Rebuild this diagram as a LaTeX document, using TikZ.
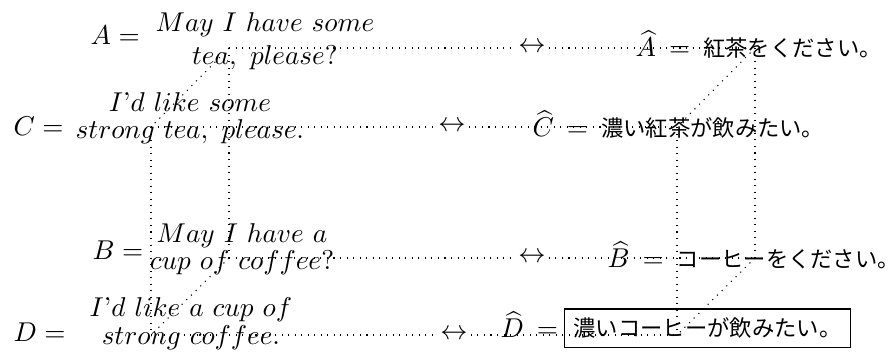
\documentclass[tikz,border=0pt]{standalone}
\usepackage{fontspec}
\newfontfamily\jpfont{Noto Sans CJK JP}
\newcommand\jptext[1]{{\jpfont\fontsize{8.2}{10}\selectfont #1}}
\newcommand\twoline[3]{{\renewcommand\arraystretch{#1}\begin{tabular}[t]{@{}c@{}}#2\\#3\end{tabular}}}
\newcommand\wideeq{\hspace{4.8pt}$=$\hspace{4.8pt}}
\begin{document}
\begin{tikzpicture}[x=0.3676pt,y=-0.3676pt,
  lbl/.style={inner sep=0pt,anchor=base west},
  sent/.style={inner sep=0pt,anchor=base},
  arr/.style={inner sep=1pt},
  edge/.style={dotted},
  answer/.style={draw,line width=0.5pt,inner sep=3.3pt,anchor=base west}]
\useasboundingbox (0,0) rectangle (888,362);
% left: sentences
\node[lbl] (aeq) at (90,45) {$A =$};
\node[sent] (a) at (265,31.7) {\twoline{0.99}{$May\ I\ have\ some$}{$tea,\ please?$}};
\node[lbl] (ceq) at (13,136) {$C =$};
\node[sent] (c) at (190,112) {\twoline{0.81}{$I\mbox{'}d\ like\ some$}{$strong\ tea,\ please.$}};
\node[lbl] (beq) at (92,260) {$B =$};
\node[sent] (b) at (242,242.3) {\twoline{0.80}{$May\ I\ have\ a$}{$cup\ of\ coffee?$}};
\node[lbl] (deq) at (13,342) {$D =$};
\node[sent] (d) at (191,316.7) {\twoline{0.867}{$I\mbox{'}d\ like\ a\ cup\ of$}{$strong\ coffee.$}};
% right: translations
\node[lbl] (ah) at (635,57) {$\widehat{A}$\wideeq\jptext{紅茶をください。}};
\node[lbl] (ch) at (532,137) {$\widehat{C}$\wideeq\jptext{濃い紅茶が飲みたい。}};
\node[lbl] (bh) at (607,268) {$\widehat{B}$\wideeq\jptext{コーヒーをください。}};
\node[lbl] (dheq) at (500,338) {$\widehat{D}$\wideeq};
\node[answer] (dh) at (564,337) {\jptext{濃いコーヒーが飲みたい。}};
% arrows
\node[arr] (arA) at (532,48) {$\leftrightarrow$};
\node[arr] (arC) at (452,127) {$\leftrightarrow$};
\node[arr] (arB) at (532,258) {$\leftrightarrow$};
\node[arr] (arD) at (454,335) {$\leftrightarrow$};
% cube corners
\coordinate (A1) at (229,48);
\coordinate (C1) at (151,127);
\coordinate (B1) at (229,258);
\coordinate (D1) at (151,335);
\coordinate (A2) at (755,48);
\coordinate (C2) at (677,127);
\coordinate (B2) at (755,258);
\coordinate (D2) at (677,335);
% left cube
\draw[edge] (A1) -- (C1);
\draw[edge] (A1) -- (B1);
\draw[edge] (C1) -- (D1);
\draw[edge] (B1) -- (D1);
% right cube
\draw[edge] (A2) -- (C2);
\draw[edge] (A2) -- (B2);
\draw[edge] (C2) -- (D2);
\draw[edge] (B2) -- (D2);
% horizontal correspondences
\draw[edge] (A1) -- (arA); \draw[edge] (arA) -- (A2);
\draw[edge] (C1) -- (arC); \draw[edge] (arC) -- (C2);
\draw[edge] (B1) -- (arB); \draw[edge] (arB) -- (B2);
\draw[edge] (D1) -- (arD); \draw[edge] (arD) -- (D2);
\end{tikzpicture}
\end{document}
